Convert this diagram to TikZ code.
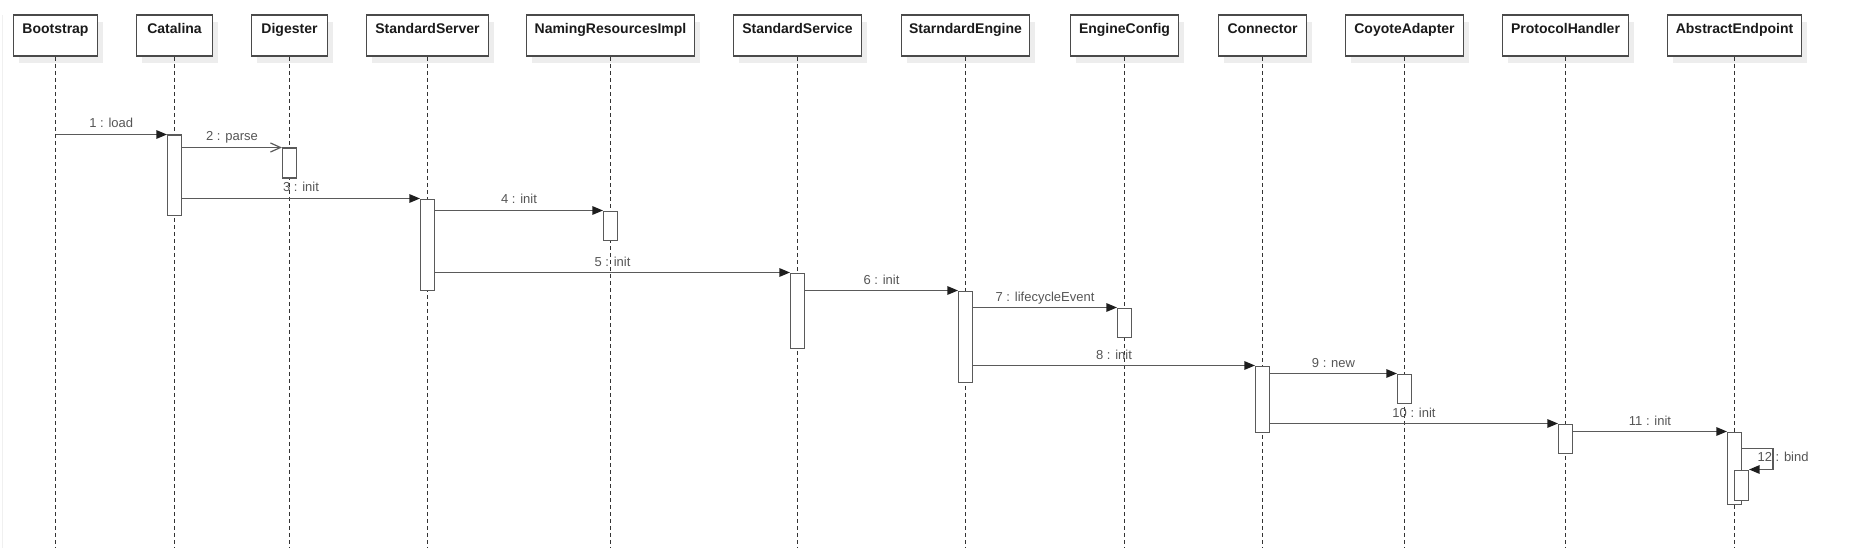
\documentclass[tikz,border=0pt]{standalone}
\usepackage{fontspec}
\setmainfont{Liberation Sans}
\usetikzlibrary{arrows.meta}
\definecolor{boxc}{HTML}{4A4A4A}
\definecolor{linec}{HTML}{5A5A5A}
\definecolor{lifec}{HTML}{333333}
\definecolor{lblc}{HTML}{555555}
\definecolor{hdrc}{HTML}{1A1A1A}
\definecolor{tipc}{HTML}{1E1E1E}
\definecolor{shadc}{HTML}{EDEDED}
\tikzset{
  hdr/.style={draw=boxc, line width=1.3pt, fill=white, rectangle, inner xsep=0pt, inner ysep=0pt,
    minimum height=41pt, anchor=north, text height=10pt, text depth=14.4pt,
    font=\fontsize{14pt}{16pt}\selectfont\bfseries, text=hdrc,
    preaction={draw=none, fill=shadc, transform canvas={xshift=5pt, yshift=-7pt}}},
  lifeline/.style={draw=lifec, line width=1pt, dash pattern=on 4pt off 3pt},
  act/.style={draw=linec, line width=1.1pt, fill=white, rectangle, inner sep=0pt,
    minimum width=14pt, anchor=north},
  msg/.style={draw=linec, line width=1.2pt, -{Triangle[length=10.5pt,width=8.5pt,color=tipc]}},
  omsg/.style={draw=linec, line width=1.2pt, -{Straight Barb[length=10pt,width=9pt]}},
  lbl/.style={midway, anchor=base, yshift=6.5pt, inner sep=0pt, text=lblc,
    font=\fontsize{13pt}{15pt}\selectfont},
  lblfree/.style={inner sep=0pt, text=lblc, font=\fontsize{13pt}{15pt}\selectfont}
}
\begin{document}
\begin{tikzpicture}[x=1pt,y=-1pt]
\useasboundingbox (0,0) rectangle (1867,548);
\coordinate (bottom) at (0,548);
\draw[gray!12, line width=1pt] (2.5,15) -- (2.5,548);
% headers
\node[hdr, minimum width=84pt] (bootstrap) at (55.5,14.5) {Bootstrap};
\node[hdr, minimum width=76pt] (catalina) at (174.5,14.5) {Catalina};
\node[hdr, minimum width=76pt] (digester) at (289.5,14.5) {Digester};
\node[hdr, minimum width=122pt] (server) at (427.5,14.5) {StandardServer};
\node[hdr, minimum width=168pt] (naming) at (610.5,14.5) {NamingResourcesImpl};
\node[hdr, minimum width=128pt] (service) at (797.5,14.5) {StandardService};
\node[hdr, minimum width=128pt] (engine) at (965.5,14.5) {StarndardEngine};
\node[hdr, minimum width=108pt] (econfig) at (1124.5,14.5) {EngineConfig};
\node[hdr, minimum width=88pt] (connector) at (1262.5,14.5) {Connector};
\node[hdr, minimum width=118pt] (coyote) at (1404.5,14.5) {CoyoteAdapter};
\node[hdr, minimum width=126pt] (protocol) at (1565.5,14.5) {ProtocolHandler};
\node[hdr, minimum width=134pt] (endpoint) at (1734.5,14.5) {AbstractEndpoint};
% lifelines
\foreach \n in {bootstrap,catalina,digester,server,naming,service,engine,econfig,connector,coyote,protocol,endpoint}
  \draw[lifeline] (\n.south) -- (\n.south |- bottom);
% activations
\node[act, minimum height=80pt] (a1) at (174.5,134.5) {};
\node[act, minimum height=30pt] (a2) at (289.5,147.5) {};
\node[act, minimum height=91pt] (a3) at (427.5,198.5) {};
\node[act, minimum height=29pt] (a4) at (610.5,210.5) {};
\node[act, minimum height=75pt] (a5) at (797.5,272.5) {};
\node[act, minimum height=91pt] (a6) at (965.5,290.5) {};
\node[act, minimum height=29pt] (a7) at (1124.5,307.5) {};
\node[act, minimum height=66pt] (a8) at (1262.5,365.5) {};
\node[act, minimum height=29pt] (a9) at (1404.5,373.5) {};
\node[act, minimum height=29pt] (a10) at (1565.5,423.5) {};
\node[act, minimum height=72pt] (a11) at (1734.5,431.5) {};
\node[act, minimum height=30pt] (a12) at (1741.5,469.5) {};
% messages
\draw[msg] (bootstrap.south |- a1.north) -- node[lbl]{1 : load} (a1.north west);
\draw[omsg] (a1.east |- a2.north) -- node[lbl]{2 : parse} (a2.north west);
\draw[msg] (a1.east |- a3.north) -- node[lbl]{3 : init} (a3.north west);
\draw[msg] (a3.east |- a4.north) -- node[lbl]{4 : init} (a4.north west);
\draw[msg] (a3.east |- a5.north) -- node[lbl]{5 : init} (a5.north west);
\draw[msg] (a5.east |- a6.north) -- node[lbl]{6 : init} (a6.north west);
\draw[msg] (a6.east |- a7.north) -- node[lbl]{7 : lifecycleEvent} (a7.north west);
\draw[msg] (a6.east |- a8.north) -- node[lbl]{8 : init} (a8.north west);
\draw[msg] (a8.east |- a9.north) -- node[lbl]{9 : new} (a9.north west);
\draw[msg] (a8.east |- a10.north) -- node[lbl]{10 : init} (a10.north west);
\draw[msg] (a10.east |- a11.north) -- node[lbl]{11 : init} (a11.north west);
\draw[msg] ([yshift=-17pt]a11.north east) -- ++(31,0) |- (a12.north east);
\node[lblfree, anchor=base west] (l12) at (1757.3,461.7) {12 : bind};
\end{tikzpicture}
\end{document}
